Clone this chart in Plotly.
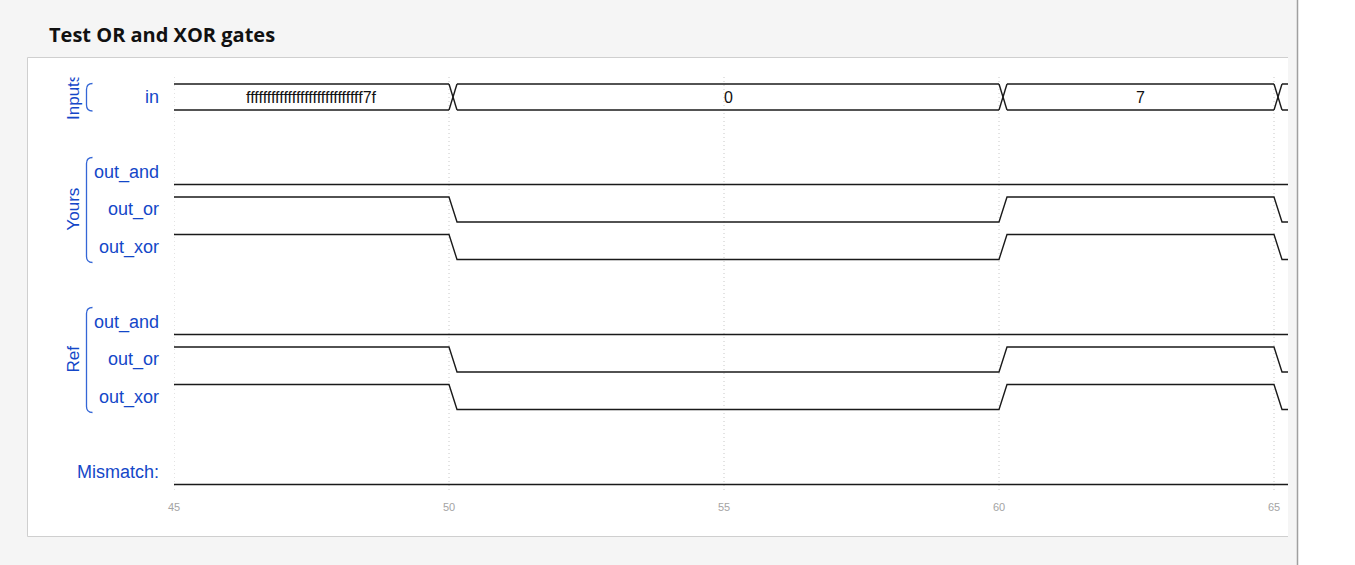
import plotly.graph_objects as go

W, H = 1355, 565

# ---------------- data ----------------
times = [45, 50, 60, 65]
in_values = ["ffffffffffffffffffffffffffff7f", "0", "7", ""]
yours_and = [0, 0, 0, 0]
yours_or = [1, 0, 1, 0]
yours_xor = [1, 0, 1, 0]
ref_and = [0, 0, 0, 0]
ref_or = [1, 0, 1, 0]
ref_xor = [1, 0, 1, 0]
mismatch = [0, 0, 0, 0]
tick_vals = [45, 50, 55, 60, 65]
title = "Test OR and XOR gates"

# ---------------- layout helpers ----------------
T0 = 45
PX_PER_T = 55.0
PLOT_L, PLOT_R = 174, 1288
LANE0_PX, LANE_PX = 97, 37.5
TW = 8 / PX_PER_T          # transition width in time units
END_T = 67
HALF = 12.5 / LANE_PX
BUS_HALF = 13 / LANE_PX

def px(x):
    return x / W

def py(y):
    return 1 - y / H

LINE = dict(color="#1a1a1a", width=1.4)
BLUE = "#1447c8"
BRACKET = "#3466d6"
SANS = "Liberation Sans, Arial"

fig = go.Figure()

def note(**kw):
    kw.setdefault("xanchor", "center")
    kw.setdefault("yanchor", "middle")
    fig.add_annotation(showarrow=False, **kw)

def digital(values, lane):
    lvl = lambda v: lane - HALF if v else lane + HALF
    xs = [times[0]]
    ys = [lvl(values[0])]
    for i in range(1, len(values)):
        xs += [times[i], times[i] + TW]
        ys += [lvl(values[i - 1]), lvl(values[i])]
    xs.append(END_T)
    ys.append(lvl(values[-1]))
    fig.add_trace(go.Scatter(x=xs, y=ys, mode="lines", line=LINE,
                             hoverinfo="skip", showlegend=False))

def bus(values, lane):
    top, bot = lane - BUS_HALF, lane + BUS_HALF
    xs, ys = [], []
    bounds = times + [END_T]
    for i in range(len(values)):
        s = times[i] + (TW if i > 0 else 0)
        e = bounds[i + 1]
        xs += [s, e, None, s, e, None]
        ys += [top, top, None, bot, bot, None]
        if i > 0:
            t = times[i]
            xs += [t, t + TW, None, t, t + TW, None]
            ys += [top, bot, None, bot, top, None]
    fig.add_trace(go.Scatter(x=xs, y=ys, mode="lines", line=LINE,
                             hoverinfo="skip", showlegend=False))
    for i, v in enumerate(values):
        if not v:
            continue
        s = times[i] + (TW if i > 0 else 0)
        e = bounds[i + 1]
        note(x=(s + e) / 2, y=lane, xref="x", yref="y", text=v,
             font=dict(family=SANS, size=16, color="#111"))

# ---------------- background / card ----------------
shapes = []
shapes.append(dict(type="rect", xref="paper", yref="paper", x0=0, x1=px(1297), y0=0, y1=1,
                   fillcolor="#f5f5f5", line=dict(width=0), layer="below"))
shapes.append(dict(type="line", xref="paper", yref="paper", x0=px(1297.5), x1=px(1297.5), y0=0, y1=1,
                   line=dict(color="#a0a0a0", width=1.5), layer="below"))
shapes.append(dict(type="rect", xref="paper", yref="paper", x0=px(27.5), x1=px(1288), y0=py(57.5), y1=py(536.5),
                   fillcolor="white", line=dict(width=0), layer="below"))
for (x0, y0, x1, y1) in [(27.5, 57.5, 1288, 57.5), (27.5, 536.5, 1288, 536.5), (27.5, 57.5, 27.5, 536.5)]:
    shapes.append(dict(type="line", xref="paper", yref="paper", x0=px(x0), x1=px(x1), y0=py(y0), y1=py(y1),
                       line=dict(color="#cfcfcf", width=1), layer="below"))

# grid + tick labels
for t in tick_vals:
    shapes.append(dict(type="line", xref="x", yref="paper", x0=t, x1=t, y0=py(77), y1=py(491),
                       line=dict(color="#c8c8c8", width=1, dash="1px,3px"), layer="below"))
    note(x=t, y=py(507), xref="x", yref="paper", text=str(t),
         font=dict(family=SANS, size=11, color="#a4a4a4"))

# brackets
def bracket(top, bottom):
    x0, x1, r = 86.5, 92.5, 6
    path = (f"M {px(x1)},{py(top)} Q {px(x0)},{py(top)} {px(x0)},{py(top + r)} "
            f"L {px(x0)},{py(bottom - r)} Q {px(x0)},{py(bottom)} {px(x1)},{py(bottom)}")
    shapes.append(dict(type="path", xref="paper", yref="paper", path=path,
                       line=dict(color=BRACKET, width=1.3), layer="above"))

bracket(83.5, 111)
bracket(157.5, 262.5)
bracket(307.5, 412.5)

# ---------------- signals ----------------
bus(in_values, 0)
signals = [("out_and", yours_and, 2), ("out_or", yours_or, 3), ("out_xor", yours_xor, 4),
           ("out_and", ref_and, 6), ("out_or", ref_or, 7), ("out_xor", ref_xor, 8),
           ("Mismatch:", mismatch, 10)]
for name, vals, lane in signals:
    digital(vals, lane)

label_font = dict(family=SANS, size=18, color=BLUE)
for name, lane in [("in", 0)] + [(n, l) for n, _, l in signals]:
    note(x=px(161), y=lane, xref="paper", yref="y", text=name, xanchor="right", font=label_font)

for name, lane in [("Inputs", 0), ("Yours", 3), ("Ref", 7)]:
    note(x=px(73), y=lane, xref="paper", yref="y", text=name, textangle=-90,
         font=dict(family=SANS, size=17, color=BLUE))

# clip the top of the "Inputs" group label like the reference
note(x=px(73), y=py(71), xref="paper", yref="paper", text=" ", width=26, height=12,
     bgcolor="white", borderpad=0, font=dict(size=4))

note(x=px(47), y=py(34), xref="paper", yref="paper", text=f"<b>{title}</b>", xanchor="left",
     font=dict(family="Open Sans", size=20, color="#111"))

fig.update_layout(
    width=W, height=H, margin=dict(l=0, r=0, t=0, b=0),
    paper_bgcolor="white", plot_bgcolor="rgba(0,0,0,0)",
    shapes=shapes, showlegend=False,
    xaxis=dict(domain=[px(PLOT_L), px(PLOT_R)], range=[T0, T0 + (PLOT_R - PLOT_L) / PX_PER_T],
               visible=False, fixedrange=True),
    yaxis=dict(domain=[0, 1], range=[(H - LANE0_PX) / LANE_PX, -LANE0_PX / LANE_PX],
               visible=False, fixedrange=True),
)

fig.write_html("out.html")
